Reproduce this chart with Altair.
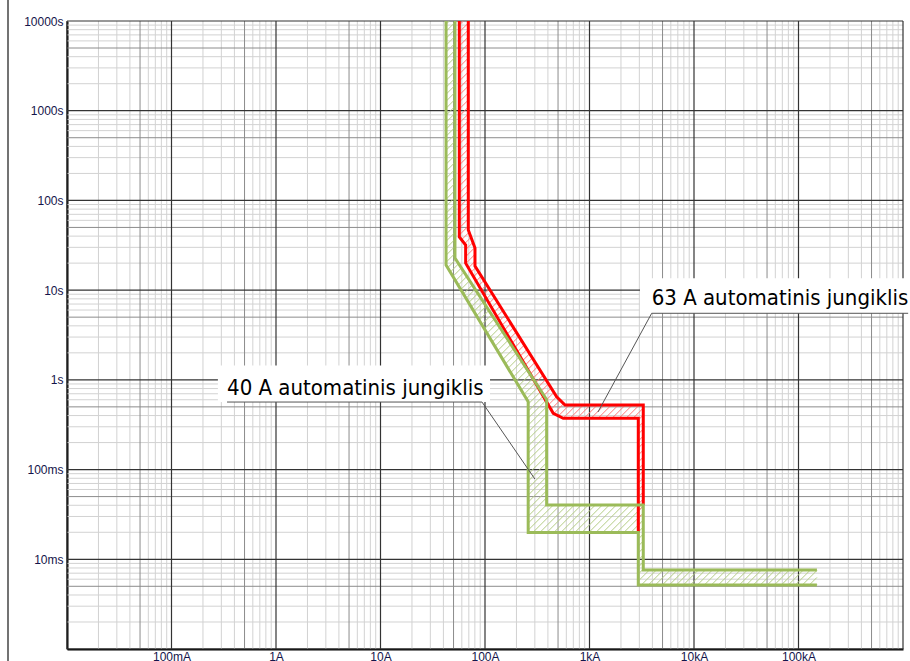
import numpy as np
import pandas as pd
import altair as alt

# ---- Time-current characteristics (current in A, trip time in s) ----
# 40 A breaker: upper (max) and lower (min) trip boundaries
g_max_I = [51.6, 51.6, 389, 389, 3270, 3270, 150000]
g_max_t = [10000, 22.8, 0.60, 0.0403, 0.0403, 0.0076, 0.0076]
g_min_I = [42.4, 42.4, 259, 259, 2930, 2930, 150000]
g_min_t = [10000, 19.0, 0.57, 0.0199, 0.0199, 0.00516, 0.00516]

# 63 A breaker: upper (max) and lower (min) trip boundaries
r_max_I = [69.2, 69.2, 80.2, 80.2, 485, 583, 3270, 3270]
r_max_t = [10000, 46.8, 29.5, 18.6, 0.649, 0.525, 0.525, 0.0403]
r_min_I = [56.8, 56.8, 65.3, 65.3, 450, 561, 2930, 2930]
r_min_t = [10000, 39.1, 31.8, 20.0, 0.424, 0.373, 0.373, 0.0199]

# Axis ticks and labels
x_tick_vals = [0.1, 1, 10, 100, 1000, 10000, 100000]
x_tick_labels = ["100mA", "1A", "10A", "100A", "1kA", "10kA", "100kA"]
y_tick_vals = [10000, 1000, 100, 10, 1, 0.1, 0.01]
y_tick_labels = ["10000s", "1000s", "100s", "10s", "1s", "100ms", "10ms"]

X_DOMAIN = [0.01, 1e6]
Y_DOMAIN = [0.001, 10000]
W, H = 836, 628

# ---- annotations (data coordinates) ----
lab40 = {"text": "40 A automatinis jungiklis", "I": 0.34, "t": 0.678}
lab40_line = [(0.34, 0.566), (93.6, 0.566), (300, 0.0785)]
lab40_box = (0.278, 111.7, 0.566, 1.45)

lab63 = {"text": "63 A automatinis jungiklis", "I": 3936, "t": 6.82}
lab63_line = [(1205, 0.438), (3936, 5.52), (1.12e6, 5.52)]
lab63_box = (3041, 1.2e6, 5.52, 13.6)

xs = alt.Scale(type="log", domain=X_DOMAIN, nice=False, zero=False)
ys = alt.Scale(type="log", domain=Y_DOMAIN, nice=False, zero=False)

px_dec_x = W / (np.log10(X_DOMAIN[1]) - np.log10(X_DOMAIN[0]))
px_dec_y = H / (np.log10(Y_DOMAIN[1]) - np.log10(Y_DOMAIN[0]))


def label_expr(values, labels):
    expr = "''"
    for v, lab in zip(values, labels):
        expr = f"(abs(log(datum.value) / LN10 - ({np.log10(v):.4f})) < 0.01 ? '{lab}' : {expr})"
    return expr


def grid_values(e0, e1):
    rows = []
    for e in range(e0, e1):
        for m in range(1, 10):
            kind = "major" if m == 1 else ("mid" if m == 5 else "minor")
            rows.append({"v": m * 10.0 ** e, "kind": kind})
    rows.append({"v": 10.0 ** e1, "kind": "major"})
    return pd.DataFrame(rows)


def hatch(up_I, up_t, lo_I, lo_t, step=7.0):
    """Clip 45-degree hatch lines to the band between two boundaries."""
    I = np.array(list(up_I) + list(lo_I)[::-1], float)
    t = np.array(list(up_t) + list(lo_t)[::-1], float)
    X = np.log10(I) * px_dec_x
    Y = np.log10(t) * px_dec_y
    d = X - Y
    n = len(X)
    segs = []
    for c in np.arange(np.floor(d.min() / step) * step + step / 2, d.max(), step):
        pts = []
        for k in range(n):
            x1, y1 = X[k], Y[k]
            x2, y2 = X[(k + 1) % n], Y[(k + 1) % n]
            f1, f2 = x1 - y1 - c, x2 - y2 - c
            if (f1 > 0) != (f2 > 0):
                s = f1 / (f1 - f2)
                pts.append((x1 + s * (x2 - x1), y1 + s * (y2 - y1)))
        pts.sort()
        for a, b in zip(pts[0::2], pts[1::2]):
            segs.append({
                "I": 10 ** (a[0] / px_dec_x), "t": 10 ** (a[1] / px_dec_y),
                "I2": 10 ** (b[0] / px_dec_x), "t2": 10 ** (b[1] / px_dec_y),
            })
    return pd.DataFrame(segs)


def curve_df(name, I, t):
    return pd.DataFrame({"I": I, "t": t, "order": range(len(I)), "curve": name})


# ---- shared axes ----
axis_style = dict(title="", ticks=False, grid=False, domain=True, domainColor="#000000",
                  domainWidth=2, labelFont="Liberation Sans", labelFontSize=12,
                  labelColor="#14144a")
x_axis = alt.Axis(values=x_tick_vals, labelExpr=label_expr(x_tick_vals, x_tick_labels),
                  labelPadding=2, **axis_style)
y_axis = alt.Axis(values=y_tick_vals, labelExpr=label_expr(y_tick_vals, y_tick_labels),
                  labelPadding=4, **axis_style)


def X(field):
    return alt.X(field, scale=xs, axis=x_axis)


def Y(field):
    return alt.Y(field, scale=ys, axis=y_axis)


# ---- grid ----
xg = grid_values(-2, 6)
yg = grid_values(-3, 4)
grid_style = {"minor": ("#d2d2d2", 1), "mid": ("#8c8c8c", 1), "major": ("#333333", 1.2)}

layers = []
for kind in ["minor", "mid", "major"]:
    col, sw = grid_style[kind]
    layers.append(alt.Chart(xg[xg.kind == kind]).mark_rule(color=col, strokeWidth=sw).encode(
        x=X("v:Q")))
    layers.append(alt.Chart(yg[yg.kind == kind]).mark_rule(color=col, strokeWidth=sw).encode(
        y=Y("v:Q")))

# white boxes behind the labels
boxes = pd.DataFrame([
    {"I": lab40_box[0], "I2": lab40_box[1], "t": lab40_box[2], "t2": lab40_box[3]},
    {"I": lab63_box[0], "I2": lab63_box[1], "t": lab63_box[2], "t2": lab63_box[3]},
])
layers.append(alt.Chart(boxes).mark_rect(color="white").encode(
    x=X("I:Q"), x2="I2:Q", y=Y("t:Q"), y2="t2:Q"))

# hatching inside each band
for up_I, up_t, lo_I, lo_t, col in [
    (g_max_I, g_max_t, g_min_I, g_min_t, "#b4cd85"),
    (r_max_I, r_max_t, r_min_I, r_min_t, "#ff7a7a"),
]:
    layers.append(alt.Chart(hatch(up_I, up_t, lo_I, lo_t)).mark_rule(color=col, strokeWidth=1).encode(
        x=X("I:Q"), x2="I2:Q", y=Y("t:Q"), y2="t2:Q"))

# boundary curves
red = pd.concat([curve_df("r_max", r_max_I, r_max_t), curve_df("r_min", r_min_I, r_min_t)])
green = pd.concat([curve_df("g_max", g_max_I, g_max_t), curve_df("g_min", g_min_I, g_min_t)])
for df, col in [(red, "#ff0000"), (green, "#9bbb59")]:
    layers.append(alt.Chart(df).mark_line(color=col, strokeWidth=3, strokeJoin="miter",
                                          strokeCap="butt").encode(
        x=X("I:Q"), y=Y("t:Q"), detail="curve:N", order="order:Q"))

# label leaders / underlines
leaders = pd.concat([
    pd.DataFrame({"I": [p[0] for p in lab40_line], "t": [p[1] for p in lab40_line],
                  "order": range(3), "k": "40"}),
    pd.DataFrame({"I": [p[0] for p in lab63_line], "t": [p[1] for p in lab63_line],
                  "order": range(3), "k": "63"}),
])
layers.append(alt.Chart(leaders).mark_line(color="#555555", strokeWidth=1).encode(
    x=X("I:Q"), y=Y("t:Q"), detail="k:N", order="order:Q"))

labels = pd.DataFrame([lab40, lab63])
layers.append(alt.Chart(labels).mark_text(
    align="left", baseline="alphabetic", fontSize=22, color="#000000",
    font="DejaVu Sans Condensed, sans-serif").encode(
    x=X("I:Q"), y=Y("t:Q"), text="text:N"))

# frame line at the left edge of the sheet
layers.append(alt.Chart(pd.DataFrame({"k": [0]})).mark_rule(color="#444444", strokeWidth=1.5).encode(
    x=alt.value(-59), y=alt.value(-21), y2=alt.value(H + 12)))

chart = alt.layer(*layers).properties(
    width=W, height=H, autosize="none",
    padding={"left": 67, "top": 21, "right": 7, "bottom": 12},
    background="white",
).configure_view(strokeWidth=0)

chart.save("out.html", embed_options={"renderer": "svg", "actions": False})
